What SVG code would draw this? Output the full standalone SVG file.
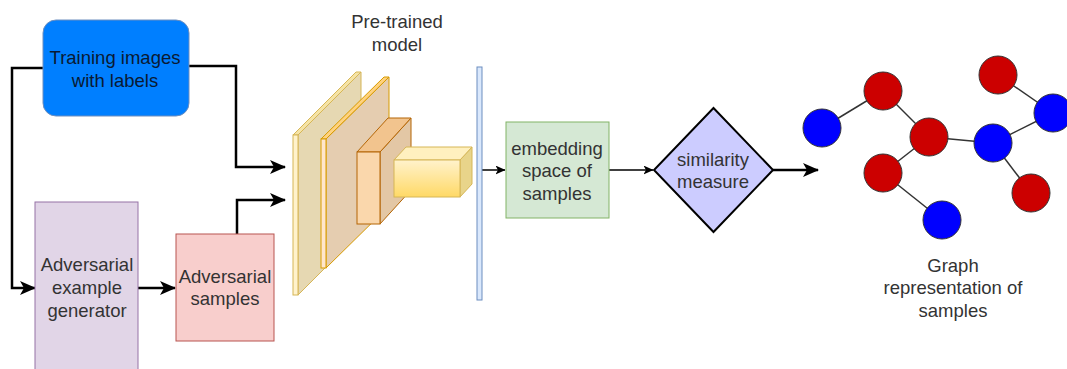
<svg xmlns="http://www.w3.org/2000/svg" width="1067" height="369" viewBox="0 0 1067 369">
<defs>
<style>
.t{font-family:"Liberation Sans",Arial,sans-serif;font-size:18.5px;fill:#333;text-anchor:middle}
.thick{fill:none;stroke:#000;stroke-width:2.5}
.thin{fill:none;stroke:#000;stroke-width:1.5}
.e{stroke:#333;stroke-width:1.5}
.r{fill:#CC0000;stroke:#333;stroke-width:1}
.b{fill:#0000FF;stroke:#333;stroke-width:1}
</style>
<marker id="ah" viewBox="0 0 16 14" refX="15" refY="7" markerWidth="16" markerHeight="14" markerUnits="userSpaceOnUse" orient="auto">
<path d="M0,0 L16,7 L0,14 L4,7 Z" fill="#000"/>
</marker>
<marker id="as" viewBox="0 0 10 9" refX="9.5" refY="4.5" markerWidth="10" markerHeight="9" markerUnits="userSpaceOnUse" orient="auto">
<path d="M0,0 L10,4.5 L0,9 L2.5,4.5 Z" fill="#000"/>
</marker>
<linearGradient id="yg" x1="0" y1="0" x2="0" y2="1">
<stop offset="0" stop-color="#FFF2CC"/>
<stop offset="1" stop-color="#FFD966"/>
</linearGradient>
</defs>

<g id="connectors">
<path class="thick" d="M43,68 H12 V288 H35" marker-end="url(#ah)"/>
<path class="thick" d="M189,66 H236 V167 H285" marker-end="url(#ah)"/>
<path class="thick" d="M138,288 H175" marker-end="url(#ah)"/>
<path class="thick" d="M237,234 V200 H285" marker-end="url(#ah)"/>
<path class="thin" d="M482,170 H505" marker-end="url(#as)"/>
<path class="thin" d="M609,170 H653" marker-end="url(#as)"/>
<path class="thick" d="M773,170 H818" marker-end="url(#ah)"/>
</g>

<g id="training">
<rect x="43" y="20" width="146" height="96" rx="13" fill="#007FFF" stroke="#6C8EBF" stroke-width="1"/>
<text class="t" x="115" y="64" style="fill:#0a1a33">Training images</text>
<text class="t" x="115" y="87" style="fill:#0a1a33">with labels</text>
</g>

<g id="generator">
<rect x="35" y="202" width="103" height="180" fill="#E1D5E7" stroke="#9673A6" stroke-width="1"/>
<text class="t" x="87" y="271">Adversarial</text>
<text class="t" x="87" y="294">example</text>
<text class="t" x="87" y="317">generator</text>
</g>

<g id="adv-samples">
<rect x="176" y="234" width="98" height="107" fill="#F8CECC" stroke="#B85450" stroke-width="1"/>
<text class="t" x="225" y="283">Adversarial</text>
<text class="t" x="225" y="305">samples</text>
</g>

<g id="model">
<text class="t" x="397" y="28">Pre-trained</text>
<text class="t" x="397" y="51">model</text>
<path d="M298,135 L361,72 L361,232 L298,295 Z" fill="#E6D8B2" stroke="#D6B656" stroke-width="1"/>
<path d="M293,135 L356,72 L361,72 L298,135 Z" fill="#F5E3A6" stroke="#D6B656" stroke-width="1"/>
<rect x="293" y="135" width="5" height="160" fill="#FFF2CC" stroke="#D6B656" stroke-width="1"/>
<path d="M326,139 L389,77 L389,206 L326,268 Z" fill="#E5CDB0" stroke="#D79B00" stroke-width="1"/>
<path d="M321,139 L384,77 L389,77 L326,139 Z" fill="#FFD27F" stroke="#D79B00" stroke-width="1"/>
<rect x="321" y="139" width="5" height="129" fill="#FFE6CC" stroke="#D79B00" stroke-width="1"/>
<path d="M380,152 L411,118 L411,190 L380,224 Z" fill="#E3C7A5" stroke="#B46504" stroke-width="1"/>
<path d="M357,152 L388,118 L411,118 L380,152 Z" fill="#F2C48E" stroke="#B46504" stroke-width="1"/>
<rect x="357" y="152" width="23" height="72" fill="#FAD7AC" stroke="#B46504" stroke-width="1"/>
<path d="M460,160 L472,147 L472,184 L460,197 Z" fill="#E8D48A" stroke="#D6B656" stroke-width="1"/>
<path d="M394,160 L406,147 L472,147 L460,160 Z" fill="#FFF0BF" stroke="#D6B656" stroke-width="1"/>
<rect x="394" y="160" width="66" height="37" fill="url(#yg)" stroke="#D6B656" stroke-width="1"/>
</g>

<g id="output-layer">
<rect x="477" y="67" width="5" height="233" fill="#DAE8FC" stroke="#6C8EBF" stroke-width="1"/>
</g>

<g id="embedding">
<rect x="506" y="122" width="103" height="96" fill="#D5E8D4" stroke="#82B366" stroke-width="1"/>
<text class="t" x="557" y="155">embedding</text>
<text class="t" x="557" y="177">space of</text>
<text class="t" x="557" y="200">samples</text>
</g>

<g id="similarity">
<path d="M713.5,108 L773,170 L713.5,232 L654,170 Z" fill="#CCCCFF" stroke="#000" stroke-width="2"/>
<text class="t" x="713" y="166">similarity</text>
<text class="t" x="713" y="188">measure</text>
</g>

<g id="graph">
<line class="e" x1="822" y1="128" x2="883" y2="91"/>
<line class="e" x1="883" y1="91" x2="929" y2="137"/>
<line class="e" x1="929" y1="137" x2="883" y2="173"/>
<line class="e" x1="883" y1="173" x2="942" y2="220"/>
<line class="e" x1="929" y1="137" x2="993" y2="143"/>
<line class="e" x1="993" y1="143" x2="1053" y2="113"/>
<line class="e" x1="998" y1="75" x2="1053" y2="113"/>
<line class="e" x1="993" y1="143" x2="1031" y2="193"/>
<circle class="b" cx="822" cy="128" r="19"/>
<circle class="r" cx="883" cy="91" r="19"/>
<circle class="r" cx="929" cy="137" r="19"/>
<circle class="r" cx="883" cy="173" r="19"/>
<circle class="b" cx="942" cy="220" r="19"/>
<circle class="b" cx="993" cy="143" r="19"/>
<circle class="r" cx="998" cy="75" r="19"/>
<circle class="b" cx="1053" cy="113" r="19"/>
<circle class="r" cx="1031" cy="193" r="19"/>
<text class="t" x="953" y="272">Graph</text>
<text class="t" x="953" y="294">representation of</text>
<text class="t" x="953" y="317">samples</text>
</g>
</svg>
